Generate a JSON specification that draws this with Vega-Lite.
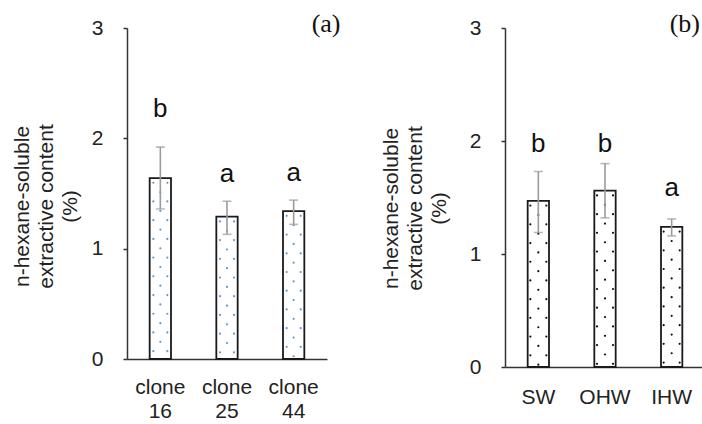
{
  "$schema": "https://vega.github.io/schema/vega-lite/v6.json",
  "background": "white",
  "padding": {"left": 11, "top": 11, "right": 0, "bottom": 0},
  "bounds": "flush",
  "spacing": 178,
  "config": {
    "view": {"stroke": null},
    "font": "Liberation Sans",
    "axis": {
      "labelFont": "Liberation Sans",
      "titleFont": "Liberation Sans",
      "labelFontSize": 21,
      "titleFontSize": 21,
      "titleFontWeight": "normal",
      "labelColor": "#222",
      "titleColor": "#222",
      "domainColor": "#333",
      "tickColor": "#333",
      "domainWidth": 1.5,
      "tickWidth": 1.5,
      "grid": false
    }
  },
  "hconcat": [
    {
      "width": 200,
      "height": 331,
      "data": {"values": [
        {"group": "clone 16", "mean": 1.64, "lo": 1.36, "hi": 1.92, "letter": "b", "ly": 2.19},
        {"group": "clone 25", "mean": 1.29, "lo": 1.13, "hi": 1.43, "letter": "a", "ly": 1.60},
        {"group": "clone 44", "mean": 1.34, "lo": 1.22, "hi": 1.44, "letter": "a", "ly": 1.61}
      ]},
      "encoding": {
        "x": {"field": "group", "type": "nominal", "sort": null,
          "scale": {"paddingInner": 0.68, "paddingOuter": 0.34},
          "axis": {"title": null, "labelAngle": 0, "ticks": false, "labelPadding": 17,
            "labelExpr": "split(datum.label, ' ')", "labelLineHeight": 24}}
      },
      "layer": [
        {"mark": {"type": "bar", "fill": "white", "stroke": "#1a1a1a", "strokeWidth": 1.8},
         "encoding": {"y": {"field": "mean", "type": "quantitative", "scale": {"domain": [0, 3]},
           "axis": {"values": [0, 1, 2, 3], "format": "d",
             "title": ["n-hexane-soluble", "extractive content", "(%)"],
             "titleLineHeight": 24, "titleY": 178, "tickSize": 4, "labelPadding": 20, "titlePadding": 11}}}},
        {"mark": {"type": "rule", "color": "#5b9bd5", "strokeWidth": 2.2, "strokeCap": "round", "strokeDash": [0.01, 18.7], "strokeDashOffset": 14, "xOffset": -7},
         "encoding": {"y": {"field": "mean", "type": "quantitative"}, "y2": {"datum": 0}}},
        {"mark": {"type": "rule", "color": "#5b9bd5", "strokeWidth": 2.2, "strokeCap": "round", "strokeDash": [0.01, 18.7], "strokeDashOffset": 14, "xOffset": 7},
         "encoding": {"y": {"field": "mean", "type": "quantitative"}, "y2": {"datum": 0}}},
        {"mark": {"type": "rule", "color": "#5b9bd5", "strokeWidth": 2.2, "strokeCap": "round", "strokeDash": [0.01, 18.7], "strokeDashOffset": 4.6, "xOffset": 0},
         "encoding": {"y": {"field": "mean", "type": "quantitative"}, "y2": {"datum": 0}}},
        {"mark": {"type": "rule", "color": "#9a9a9a", "strokeWidth": 1.6},
         "encoding": {"y": {"field": "lo", "type": "quantitative"}, "y2": {"field": "hi"}}},
        {"mark": {"type": "tick", "color": "#9a9a9a", "size": 9, "thickness": 1.6},
         "encoding": {"y": {"field": "lo", "type": "quantitative"}}},
        {"mark": {"type": "tick", "color": "#9a9a9a", "size": 9, "thickness": 1.6},
         "encoding": {"y": {"field": "hi", "type": "quantitative"}}},
        {"mark": {"type": "text", "fontSize": 26, "baseline": "alphabetic", "color": "#111", "font": "Liberation Sans"},
         "encoding": {"y": {"field": "ly", "type": "quantitative"}, "text": {"field": "letter"}}},
        {"data": {"values": [{"panel": "(a)"}]},
         "mark": {"type": "text", "font": "Liberation Serif", "fontSize": 26, "align": "left", "baseline": "alphabetic", "dx": 18, "dy": 4, "color": "#111"},
         "encoding": {"x": {"datum": "clone 44"}, "y": {"datum": 3}, "text": {"field": "panel"}}}
      ]
    },
    {
      "width": 200,
      "height": 339,
      "data": {"values": [
        {"group": "SW", "mean": 1.47, "lo": 1.19, "hi": 1.73, "letter": "b", "ly": 1.90},
        {"group": "OHW", "mean": 1.56, "lo": 1.32, "hi": 1.80, "letter": "b", "ly": 1.90},
        {"group": "IHW", "mean": 1.24, "lo": 1.16, "hi": 1.31, "letter": "a", "ly": 1.51}
      ]},
      "encoding": {
        "x": {"field": "group", "type": "nominal", "sort": null,
          "scale": {"paddingInner": 0.68, "paddingOuter": 0.34},
          "axis": {"title": null, "labelAngle": 0, "ticks": false, "labelPadding": 19}}
      },
      "layer": [
        {"mark": {"type": "bar", "fill": "white", "stroke": "#1a1a1a", "strokeWidth": 1.8},
         "encoding": {"y": {"field": "mean", "type": "quantitative", "scale": {"domain": [0, 3]},
           "axis": {"values": [0, 1, 2, 3], "format": "d",
             "title": ["n-hexane-soluble", "extractive content", "(%)"],
             "titleLineHeight": 24, "titleY": 180, "tickSize": 4, "labelPadding": 20, "titlePadding": 20}}}},
        {"mark": {"type": "rule", "color": "#111", "strokeWidth": 2.2, "strokeCap": "round", "strokeDash": [0.01, 18.7], "strokeDashOffset": 14, "xOffset": -8},
         "encoding": {"y": {"field": "mean", "type": "quantitative"}, "y2": {"datum": 0}}},
        {"mark": {"type": "rule", "color": "#111", "strokeWidth": 2.2, "strokeCap": "round", "strokeDash": [0.01, 18.7], "strokeDashOffset": 14, "xOffset": 8},
         "encoding": {"y": {"field": "mean", "type": "quantitative"}, "y2": {"datum": 0}}},
        {"mark": {"type": "rule", "color": "#111", "strokeWidth": 2.2, "strokeCap": "round", "strokeDash": [0.01, 18.7], "strokeDashOffset": 4.6, "xOffset": 0},
         "encoding": {"y": {"field": "mean", "type": "quantitative"}, "y2": {"datum": 0}}},
        {"mark": {"type": "rule", "color": "#9a9a9a", "strokeWidth": 1.6},
         "encoding": {"y": {"field": "lo", "type": "quantitative"}, "y2": {"field": "hi"}}},
        {"mark": {"type": "tick", "color": "#9a9a9a", "size": 9, "thickness": 1.6},
         "encoding": {"y": {"field": "lo", "type": "quantitative"}}},
        {"mark": {"type": "tick", "color": "#9a9a9a", "size": 9, "thickness": 1.6},
         "encoding": {"y": {"field": "hi", "type": "quantitative"}}},
        {"mark": {"type": "text", "fontSize": 26, "baseline": "alphabetic", "color": "#111", "font": "Liberation Sans"},
         "encoding": {"y": {"field": "ly", "type": "quantitative"}, "text": {"field": "letter"}}},
        {"data": {"values": [{"panel": "(b)"}]},
         "mark": {"type": "text", "font": "Liberation Serif", "fontSize": 26, "align": "left", "baseline": "alphabetic", "dx": -2, "dy": 4, "color": "#111"},
         "encoding": {"x": {"datum": "IHW"}, "y": {"datum": 3}, "text": {"field": "panel"}}}
      ]
    }
  ]
}
